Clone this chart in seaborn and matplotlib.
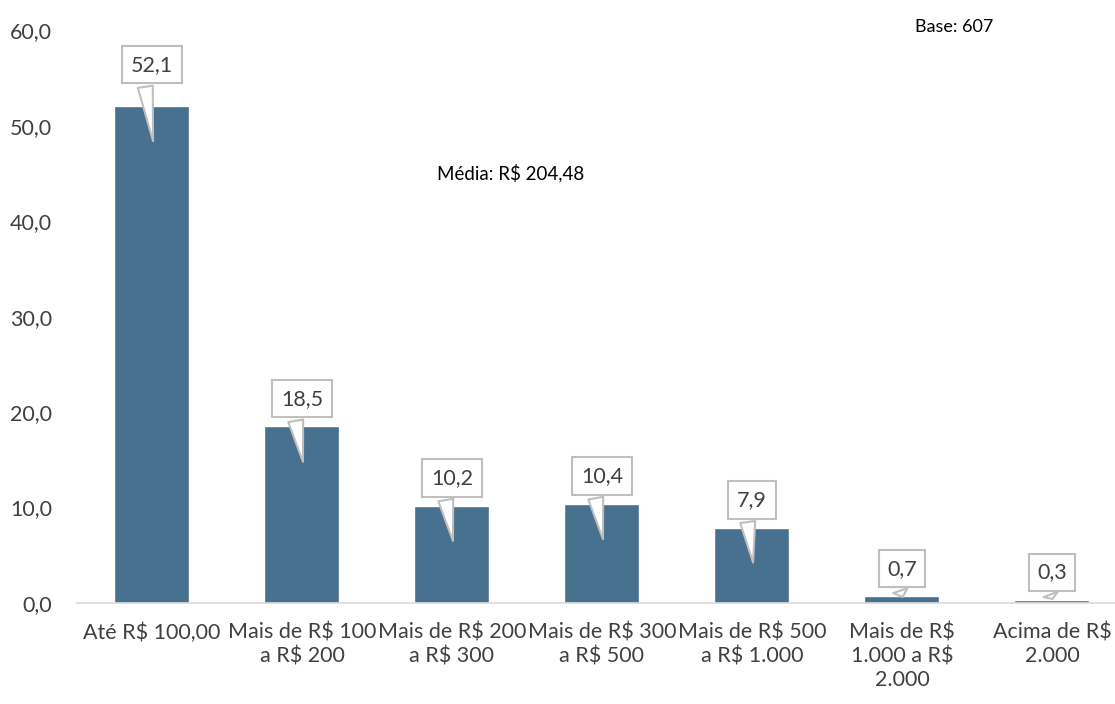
import matplotlib
matplotlib.use("Agg")
import matplotlib.pyplot as plt
import seaborn as sns
import pandas as pd

categories = ["Até R$ 100,00", "Mais de R$ 100\na R$ 200", "Mais de R$ 200\na R$ 300",
              "Mais de R$ 300\na R$ 500", "Mais de R$ 500\na R$ 1.000",
              "Mais de R$\n1.000 a R$\n2.000", "Acima de R$\n2.000"]
values = [52.1, 18.5, 10.2, 10.4, 7.9, 0.7, 0.3]
y_ticks = [0, 10, 20, 30, 40, 50, 60]
note_mean = "Média: R$ 204,48"
note_base = "Base: 607"

sns.set_theme(style="white")
plt.rcParams['font.family'] = ['Lato', 'DejaVu Sans']

TXT = "#404040"
BAR = "#48708F"
FS = 15.5

df = pd.DataFrame({"cat": categories, "val": values})
fig = plt.figure(figsize=(11.15, 7.04), dpi=100)
ax = fig.add_axes([0.069, 0.1435, 0.931, 0.8135])
sns.barplot(data=df, x="cat", y="val", color=BAR, width=0.5, ax=ax, saturation=1)

ax.set_ylim(0, 60)
ax.set_xlim(-0.5, 6.42)
ax.set_yticks(y_ticks)
ax.set_yticklabels([f"{t:.1f}".replace(".", ",") for t in y_ticks], fontsize=FS, color=TXT)
ax.set_xticks(range(len(categories)))
ax.set_xticklabels(categories, fontsize=FS, color=TXT, linespacing=1.25)
ax.tick_params(axis="x", length=0, pad=14)
ax.tick_params(axis="y", length=0, pad=18)
ax.set_xlabel("")
ax.set_ylabel("")
for s in ["top", "right", "left"]:
    ax.spines[s].set_visible(False)
ax.spines["bottom"].set_color("#d9d9d9")
ax.spines["bottom"].set_linewidth(1.2)

for i, v in enumerate(values):
    off = 4.3 if v > 40 else 2.9
    tip = max(v - 4, v * 0.5)
    ax.annotate(f"{v:.1f}".replace(".", ","), xy=(i + 0.01, tip), xytext=(i, v + off),
                ha="center", va="center", fontsize=FS, color=TXT,
                bbox=dict(boxstyle="square,pad=0.4", fc="white", ec="#bfbfbf", lw=1.5),
                arrowprops=dict(arrowstyle="wedge,tail_width=0.7,shrink_factor=0.5",
                                fc="white", ec="#bfbfbf", lw=1.5, relpos=(0.3, 0.02)))

fig.text(0.458, 0.754, note_mean, fontsize=13.5, color="black", ha="center", va="center")
fig.text(0.856, 0.962, note_base, fontsize=13, color="black", ha="center", va="center")

fig.savefig("out.png", dpi=100)
